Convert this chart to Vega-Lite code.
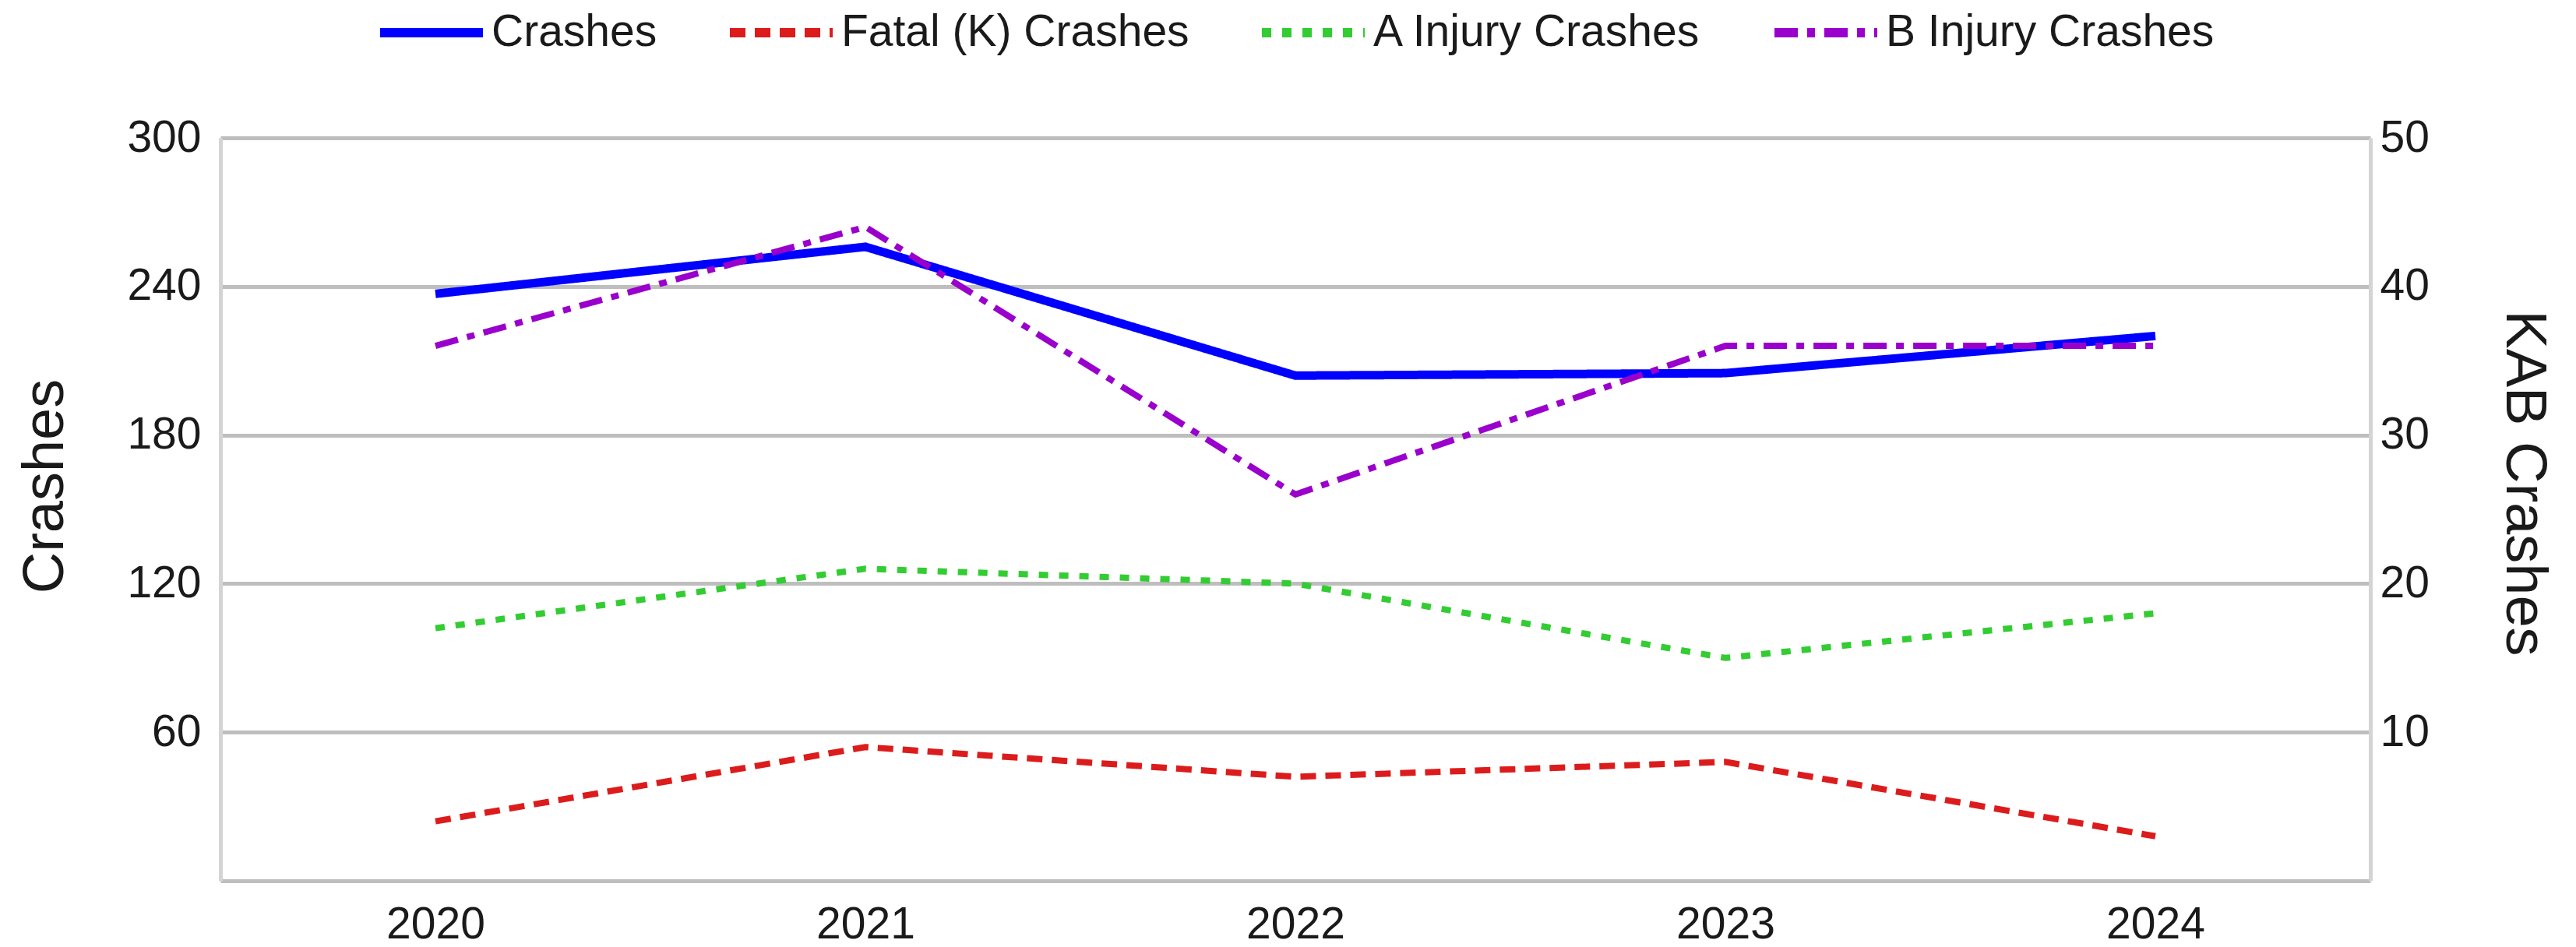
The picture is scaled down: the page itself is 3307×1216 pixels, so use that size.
{
  "$schema": "https://vega.github.io/schema/vega-lite/v6.json",
  "width": 2760,
  "height": 954,
  "autosize": {"type": "none"},
  "padding": {"left": 283, "top": 177, "right": 264, "bottom": 85},
  "background": "white",
  "config": {
    "font": "Liberation Sans",
    "view": {"stroke": null},
    "axis": {
      "labelFont": "Liberation Sans",
      "labelFontSize": 57,
      "labelColor": "#1a1a1a",
      "titleFont": "Liberation Sans",
      "titleFontSize": 74,
      "titleFontWeight": "normal",
      "titleColor": "#1a1a1a",
      "ticks": false,
      "grid": false,
      "labelLimit": 1000
    }
  },
  "data": {
    "values": [
      {"year": "2020", "series": "Crashes", "value": 237},
      {"year": "2021", "series": "Crashes", "value": 256},
      {"year": "2022", "series": "Crashes", "value": 204},
      {"year": "2023", "series": "Crashes", "value": 205},
      {"year": "2024", "series": "Crashes", "value": 220},
      {"year": "2020", "series": "Fatal (K) Crashes", "value": 4},
      {"year": "2021", "series": "Fatal (K) Crashes", "value": 9},
      {"year": "2022", "series": "Fatal (K) Crashes", "value": 7},
      {"year": "2023", "series": "Fatal (K) Crashes", "value": 8},
      {"year": "2024", "series": "Fatal (K) Crashes", "value": 3},
      {"year": "2020", "series": "A Injury Crashes", "value": 17},
      {"year": "2021", "series": "A Injury Crashes", "value": 21},
      {"year": "2022", "series": "A Injury Crashes", "value": 20},
      {"year": "2023", "series": "A Injury Crashes", "value": 15},
      {"year": "2024", "series": "A Injury Crashes", "value": 18},
      {"year": "2020", "series": "B Injury Crashes", "value": 36},
      {"year": "2021", "series": "B Injury Crashes", "value": 44},
      {"year": "2022", "series": "B Injury Crashes", "value": 26},
      {"year": "2023", "series": "B Injury Crashes", "value": 36},
      {"year": "2024", "series": "B Injury Crashes", "value": 36}
    ]
  },
  "encoding": {
    "x": {
      "field": "year",
      "type": "ordinal",
      "scale": {"type": "point", "padding": 0.5},
      "axis": {"title": null, "labelAngle": 0, "labelPadding": 28, "domain": false, "grid": false}
    },
    "color": {
      "field": "series",
      "type": "nominal",
      "sort": null,
      "scale": {
        "domain": ["Crashes", "Fatal (K) Crashes", "A Injury Crashes", "B Injury Crashes"],
        "range": ["#0000ff", "#dc1c1c", "#33cc33", "#9a00cc"]
      },
      "legend": {
        "title": null,
        "orient": "none",
        "legendX": 199,
        "legendY": -207,
        "direction": "horizontal",
        "labelFont": "Liberation Sans",
        "labelFontSize": 57,
        "labelColor": "#1a1a1a",
        "labelLimit": 2000,
        "symbolType": "stroke",
        "symbolSize": 17424,
        "symbolStrokeWidth": 12,
        "labelOffset": 5,
        "columnPadding": 69,
        "padding": 0
      }
    },
    "strokeDash": {
      "field": "series",
      "type": "nominal",
      "sort": null,
      "scale": {
        "domain": ["Crashes", "Fatal (K) Crashes", "A Injury Crashes", "B Injury Crashes"],
        "range": [[1, 0], [20, 12], [12, 14], [30, 12, 10, 12]]
      },
      "legend": {
        "title": null,
        "orient": "none",
        "legendX": 199,
        "legendY": -207,
        "direction": "horizontal",
        "labelFont": "Liberation Sans",
        "labelFontSize": 57,
        "labelColor": "#1a1a1a",
        "labelLimit": 2000,
        "symbolType": "stroke",
        "symbolSize": 17424,
        "symbolStrokeWidth": 12,
        "labelOffset": 5,
        "columnPadding": 69,
        "padding": 0
      }
    }
  },
  "layer": [
    {
      "transform": [{"filter": "datum.series === 'Crashes'"}],
      "mark": {"type": "line", "strokeWidth": 11, "strokeCap": "butt"},
      "encoding": {
        "y": {
          "field": "value",
          "type": "quantitative",
          "scale": {"domain": [0, 300], "nice": false},
          "axis": {
            "orient": "left",
            "title": "Crashes",
            "values": [0, 60, 120, 180, 240, 300],
            "labelExpr": "datum.value == 0 ? '' : datum.label",
            "grid": true,
            "gridColor": "#bebebe",
            "gridWidth": 5,
            "domainColor": "#d4d4d4",
            "domainWidth": 5,
            "labelPadding": 25,
            "titleAngle": 270,
            "titleX": -203,
            "titleY": 447,
            "titleBaseline": "alphabetic",
            "titleAlign": "center"
          }
        }
      }
    },
    {
      "transform": [{"filter": "datum.series !== 'Crashes'"}],
      "mark": {"type": "line", "strokeWidth": 8, "strokeCap": "butt"},
      "encoding": {
        "y": {
          "field": "value",
          "type": "quantitative",
          "scale": {"domain": [0, 50], "nice": false},
          "axis": {
            "orient": "right",
            "title": "KAB Crashes",
            "values": [0, 10, 20, 30, 40, 50],
            "labelExpr": "datum.value == 0 ? '' : datum.label",
            "grid": false,
            "domainColor": "#d4d4d4",
            "domainWidth": 5,
            "labelPadding": 12,
            "titleAngle": 90,
            "titleX": 174,
            "titleY": 443,
            "titleBaseline": "alphabetic",
            "titleAlign": "center"
          }
        }
      }
    }
  ],
  "resolve": {"scale": {"y": "independent"}}
}
